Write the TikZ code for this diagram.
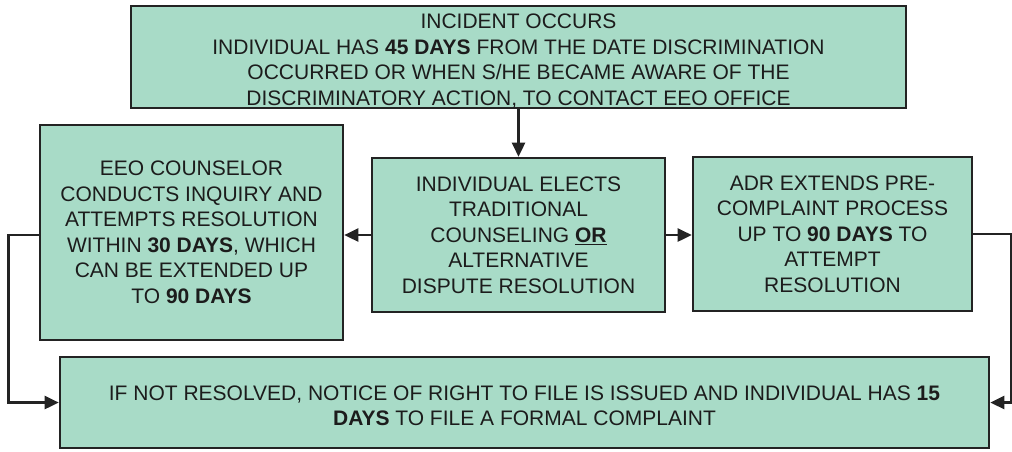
\documentclass[tikz,border=0pt]{standalone}
\usepackage{fontspec}
\setmainfont{Liberation Sans}
\usetikzlibrary{arrows.meta}
\definecolor{boxfill}{RGB}{168,219,199}
\definecolor{boxline}{RGB}{35,35,35}
\definecolor{txt}{RGB}{28,28,28}
\tikzset{
  flowbox/.style={draw=boxline, line width=2.6pt, fill=boxfill, rectangle,
    align=center, inner sep=0pt, text=txt,
    font=\fontsize{21}{25.5}\selectfont},
  arr/.style={draw=boxline, line width=2.6pt, -{Triangle[length=14pt,width=13pt]}},
}
\begin{document}
\begin{tikzpicture}[x=1pt,y=-1pt]
\useasboundingbox (0,0) rectangle (1012,451);
\node[flowbox, minimum width=775pt, minimum height=100pt] (top) at (518.5,57)
  {\rule{0pt}{23pt}INCIDENT OCCURS\\
   INDIVIDUAL HAS \textbf{45 DAYS} FROM THE DATE DISCRIMINATION\\
   OCCURRED OR WHEN S/HE BECAME AWARE OF THE\\
   DISCRIMINATORY ACTION, TO CONTACT EEO OFFICE};
\node[flowbox, minimum width=303pt, minimum height=215pt] (left) at (191.5,232.5)
  {EEO COUNSELOR\\
   CONDUCTS INQUIRY AND\\
   ATTEMPTS RESOLUTION\\
   WITHIN \textbf{30 DAYS}, WHICH\\
   CAN BE EXTENDED UP\\
   TO \textbf{90 DAYS}};
\node[flowbox, minimum width=293pt, minimum height=154pt] (mid) at (518.5,235)
  {INDIVIDUAL ELECTS\\
   TRADITIONAL\\
   COUNSELING \textbf{\underline{OR}}\\
   ALTERNATIVE\\
   DISPUTE RESOLUTION};
\node[flowbox, minimum width=279pt, minimum height=154pt] (adr) at (832.5,234)
  {ADR EXTENDS PRE-\\
   COMPLAINT PROCESS\\
   UP TO \textbf{90 DAYS} TO\\
   ATTEMPT\\
   RESOLUTION};
\node[flowbox, minimum width=929pt, minimum height=91pt] (bot) at (524.5,402.5)
  {\rule{0pt}{21pt}IF NOT RESOLVED, NOTICE OF RIGHT TO FILE IS ISSUED AND INDIVIDUAL HAS \textbf{15}\\
   \textbf{DAYS} TO FILE A FORMAL COMPLAINT};
\draw[arr] (top.south) -- (mid.north);
\draw[arr] (mid.west) -- (left.east |- mid.west);
\draw[arr] (mid.east) -- (adr.west |- mid.east);
\draw[arr] (left.west |- mid.west) -- ++(-30,0) |- (bot.west);
\draw[arr] (adr.east) -- ++(38,0) |- (bot.east);
\end{tikzpicture}
\end{document}
